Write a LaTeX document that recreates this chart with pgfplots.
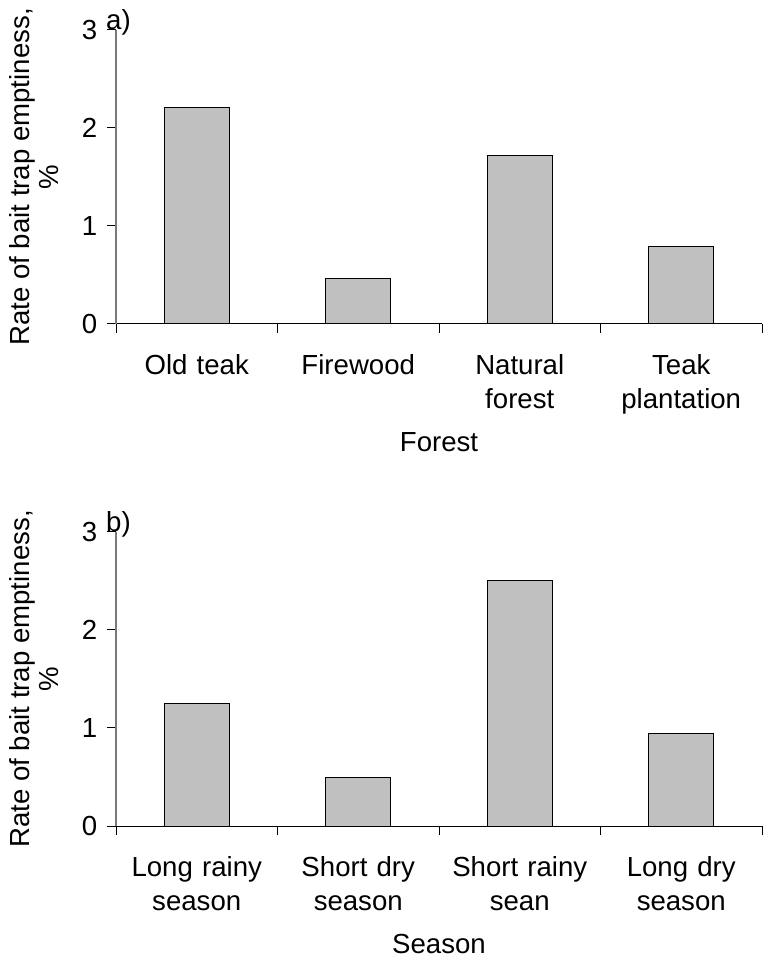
\documentclass[border=0pt]{standalone}
\usepackage{fontspec}
\setmainfont{Liberation Sans}
\usepackage{pgfplots}
\pgfplotsset{compat=1.18}
\definecolor{barfill}{HTML}{C0C0C0}
\definecolor{spine}{HTML}{7A7A7A}
\pgfplotsset{
 panel/.style={
  scale only axis, width=646pt, height=294pt,
  xmin=0, xmax=4, ymin=0, ymax=3,
  axis x line*=bottom, axis y line*=left,
  x axis line style={black, line width=1pt, -},
  y axis line style={spine, line width=1.2pt, -},
  ytick={0,1,2,3},
  xtick={0.5,1.5,2.5,3.5},
  minor xtick={0,1,2,3,4},
  tick align=outside,
  major tick length=9pt, minor tick length=9pt,
  every major x tick/.append style={draw=none},
  every minor x tick/.append style={black, line width=1pt},
  every major y tick/.append style={black, line width=1pt},
  /pgf/number format/assume math mode=true,
  tick label style={font=\fontsize{27.6pt}{34pt}\selectfont},
  xticklabel style={text width=170pt, align=center, anchor=north, inner sep=0pt, yshift=-21pt},
  yticklabel style={inner sep=0pt, xshift=-9.5pt},
  label style={font=\fontsize{27.6pt}{28.5pt}\selectfont},
  xlabel style={at={(rel axis cs:0.5,0)}, anchor=north, inner sep=0pt, yshift=-108pt},
  ylabel style={at={(rel axis cs:-0.0885,0.5)}, anchor=south, inner sep=0pt, align=center},
  ylabel={Rate of bait trap emptiness,\\ \%},
  ybar, bar width=0.4,
  clip=false,
 }
}
\begin{document}
\begin{tikzpicture}
\useasboundingbox (0,0) rectangle (763pt,956pt);
\begin{axis}[panel, at={(116pt,632pt)}, anchor=south west,
  xticklabels={Old teak, Firewood, Natural\\forest, Teak\\plantation},
  xlabel={Forest}]
\addplot[fill=barfill, draw=black, line width=1pt] coordinates {(0.5,2.21) (1.5,0.46) (2.5,1.72) (3.5,0.79)};
\node[anchor=base west, inner sep=0pt, xshift=-10pt, font=\fontsize{27.6pt}{34pt}\selectfont] at (rel axis cs:0,1) {a)};
\end{axis}
\begin{axis}[panel, at={(116pt,130pt)}, anchor=south west,
  xticklabels={Long rainy\\season, Short dry\\season, Short rainy\\sean, Long dry\\season},
  xlabel={Season}]
\addplot[fill=barfill, draw=black, line width=1pt] coordinates {(0.5,1.25) (1.5,0.49) (2.5,2.50) (3.5,0.94)};
\node[anchor=base west, inner sep=0pt, xshift=-10pt, font=\fontsize{27.6pt}{34pt}\selectfont] at (rel axis cs:0,1) {b)};
\end{axis}
\end{tikzpicture}
\end{document}
